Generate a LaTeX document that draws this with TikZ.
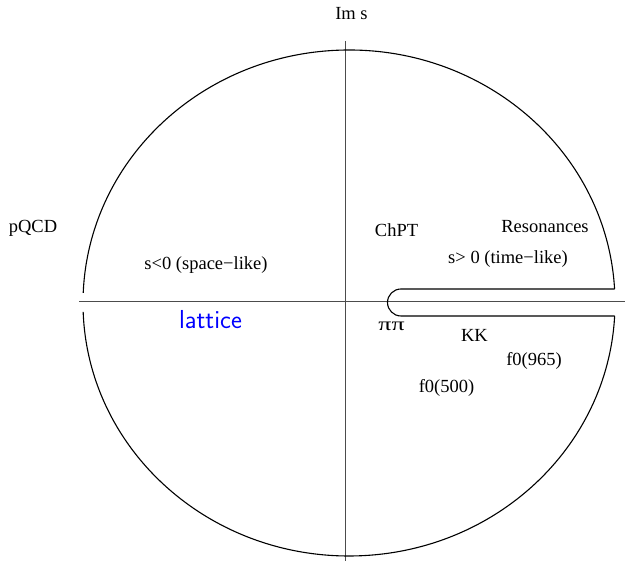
\documentclass[tikz,border=0pt]{standalone}
\usepackage{fontspec}
\setmainfont{Liberation Serif}
\begin{document}
\begin{tikzpicture}[x=1pt,y=1pt,
  lbl/.style={inner sep=0pt,anchor=base,font=\fontsize{18.5}{22}\selectfont},
  axis/.style={line width=1pt,draw=black!70},
  rim/.style={line width=1.1pt,draw=black}]
\useasboundingbox (0,0) rectangle (625,561);
% centre of the s-plane disc
\coordinate (c) at (349,258);
% axes
\coordinate (xl) at (79,259);
\coordinate (xr) at (625,259);
\coordinate (yt) at (345,520);
\coordinate (yb) at (345,0);
\draw[axis] (xl) -- (xr);
\draw[axis] (yt) -- (yb);
% boundary circle, open at the left axis and at the cut
\draw[rim] (c) ++(3.17:266 and 253) arc[start angle=3.17,end angle=177.7,x radius=266,y radius=253];
\draw[rim] (c) ++(182:266 and 253) arc[start angle=182,end angle=357.06,x radius=266,y radius=253];
% contour around the right-hand cut
\coordinate (cuttop) at (614.6,272);
\coordinate (cutbot) at (614.6,245);
\draw[rim] (cuttop) -- (401,272) arc[start angle=90,end angle=270,radius=13.5] -- (cutbot);
% labels
\node[lbl] (ims) at (351.5,541) {Im s};
\node[lbl] (pqcd) at (33,328) {pQCD};
\node[lbl] (space) at (206,291) {s<0 (space−like)};
\node[lbl,font=\sffamily\fontsize{26}{31}\selectfont,text=blue] (latt) at (210.5,232) {lattice};
\node[lbl] (chpt) at (396.5,324) {ChPT};
\node[lbl] (res) at (545,328) {Resonances};
\node[lbl] (time) at (508,297) {s> 0 (time−like)};
\node[lbl] (pipi) at (391.5,230) {\scalebox{1.4}[1]{ππ}};
\node[lbl] (kk) at (474.5,219) {KK};
\node[lbl] (f965) at (534,195) {f0(965)};
\node[lbl] (f500) at (446.5,168) {f0(500)};
\end{tikzpicture}
\end{document}
